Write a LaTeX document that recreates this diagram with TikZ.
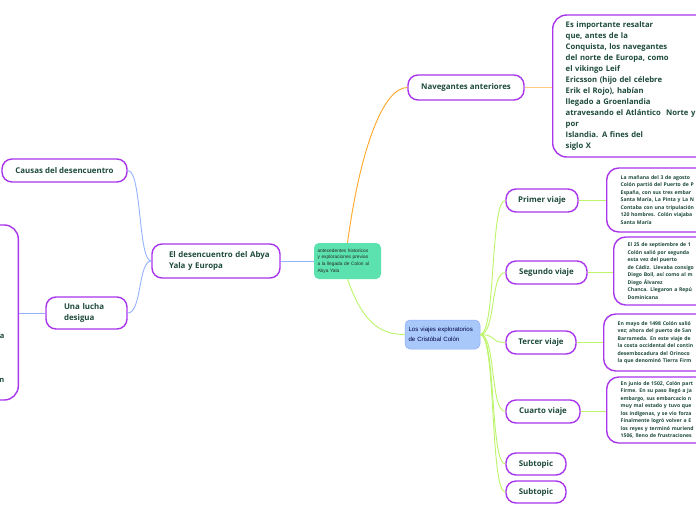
\documentclass[tikz,border=0pt]{standalone}
\usepackage{fontspec}
\setmainfont{Open Sans}
\newfontfamily\arialf{Liberation Sans}
\definecolor{topicborder}{HTML}{A935EC}
\definecolor{txt}{HTML}{1D4A3C}
\definecolor{centerfill}{HTML}{5CE2AE}
\definecolor{bluefill}{HTML}{A8C8FA}
\definecolor{orangeln}{HTML}{FFA726}
\definecolor{lightorange}{HTML}{FFCC80}
\definecolor{blueln}{HTML}{94B4FF}
\definecolor{greenln}{HTML}{BDF56A}
\tikzset{
 topic/.style={draw=topicborder, line width=1.4pt, rounded corners=10pt, fill=white, text=txt,
   font=\bfseries\fontsize{7.9}{10.5}\selectfont, inner sep=0pt, align=center},
 bigbox/.style={draw=topicborder, line width=1.4pt, rounded corners=14pt, fill=white, text=txt,
   font=\bfseries\fontsize{7.7}{11}\selectfont, inner xsep=13pt, inner ysep=0pt, align=left, anchor=west},
 detail/.style={draw=topicborder, line width=1.4pt, rounded corners=12pt, fill=white, text=txt,
   font=\bfseries\fontsize{5.1}{7.5}\selectfont, inner xsep=14pt, inner ysep=0pt, align=left, anchor=west, text width=200pt},
 conn/.style={line width=0.9pt},
}
\begin{document}
\begin{tikzpicture}[x=1pt,y=-1pt]
\useasboundingbox (0,0) rectangle (696,520);
\clip (0,0) rectangle (696,520);
\fill[white] (0,0) rectangle (696,520);

% central
\node[fill=centerfill, rounded corners=5pt, minimum width=67pt, minimum height=36pt, inner xsep=3.5pt, inner ysep=0pt,
  text width=60pt, align=left, font=\arialf\fontsize{4.8}{6.6}\selectfont, text=black!85] (c) at (347.5,261)
  {antecedentes historicos\\ y exploraciones previas\\a la llegada de Colon al\\Abya Yala};

% upper branch
\node[topic, minimum width=116pt, minimum height=25pt] (nav) at (466,87.5) {Navegantes anteriores};
\node[bigbox, minimum height=142pt, text width=190pt] (big) at (552,86)
  {Es importante resaltar\\que, antes de la\\Conquista, los navegantes\\del norte de Europa, como\\el vikingo Leif\\Ericsson (hijo del célebre\\Erik el Rojo), habían\\llegado a Groenlandia\\atravesando el Atlántico~ Norte y\\por\\Islandia. A fines del\\siglo X};

% left branch
\node[topic, minimum width=128pt, minimum height=34pt, inner xsep=0pt, text width=128pt, align=left] (des) at (216,261)
  {\hspace*{17pt}El desencuentro del Abya\\\hspace*{17pt}Yala y Europa};
\node[topic, minimum width=125pt, minimum height=23pt] (cau) at (64.5,170.5) {Causas del desencuentro};
\node[topic, minimum width=81pt, minimum height=32pt, inner xsep=18pt, text width=45pt, align=left] (luc) at (86.5,313)
  {Una lucha\\desigua};
\node[draw=topicborder, line width=1.4pt, rounded corners=14pt, fill=white, minimum width=60pt, minimum height=175pt, anchor=east] (lb) at (19,312.5) {};
\node[text=txt, font=\bfseries\fontsize{7.5}{11}\selectfont, anchor=base east, inner sep=0pt] (la) at (4.5,338.5) {a};
\node[text=txt, font=\bfseries\fontsize{7.5}{11}\selectfont, anchor=base east, inner sep=0pt] (ln) at (4.5,382.5) {n};

% lower branch
\node[fill=bluefill, draw=bluefill!85!blue, line width=0.5pt, rounded corners=5pt, minimum width=73pt, minimum height=29pt,
  inner xsep=3.5pt, inner ysep=0pt, text width=68pt, align=left, font=\arialf\fontsize{6.1}{10}\selectfont, text=black!75!blue] (via) at (442.5,334.5)
  {Los viajes exploratorios\\de Cristóbal Colón};

\node[topic, minimum width=72pt, minimum height=23pt] (v1) at (542,200.5) {Primer viaje};
\node[topic, minimum width=81pt, minimum height=23pt] (v2) at (546.5,272.5) {Segundo viaje};
\node[topic, minimum width=70pt, minimum height=23pt] (v3) at (541,342.5) {Tercer viaje};
\node[topic, minimum width=74pt, minimum height=23pt] (v4) at (543,411.5) {Cuarto viaje};
\node[topic, minimum width=60pt, minimum height=22pt] (s1) at (536,464) {Subtopic};
\node[topic, minimum width=60pt, minimum height=22pt] (s2) at (536,492) {Subtopic};

\node[detail, minimum height=64pt] (d1) at (606,200)
  {La mañana del 3 de agosto\\Colón partió del Puerto de P\\España, con sus tres embar\\Santa María, La Pinta y La N\\Contaba con una tripulación\\120 hombres. Colón viajaba\\Santa María};
\node[detail, minimum height=68pt] (d2) at (613,271)
  {El 25 de septiembre de 1\\Colón salió por segunda\\esta vez del puerto\\de Cádiz. Llevaba consigo\\Diego Boil, así como al m\\Diego Álvarez\\Chanca. Llegaron a Repú\\Dominicana};
\node[detail, minimum height=57pt] (d3) at (603,342.5)
  {En mayo de 1498 Colón salió\\vez; ahora del puerto de San\\Barrameda. En este viaje de\\la costa occidental del contin\\desembocadura del Orinoco\\la que denominó Tierra Firm};
\node[detail, minimum height=66pt] (d4) at (606,410)
  {En junio de 1502, Colón part\\Firme. En su paso llegó a Ja\\embargo, sus embarcacio n\\muy mal estado y tuvo que\\los indígenas, y se vio forza\\Finalmente logró volver a E\\los reyes y terminó muriend\\1506, lleno de frustraciones};

% connectors
\draw[conn, orangeln] (c.north) .. controls (360,150) and (383,87.5) .. (nav.west);
\draw[conn, lightorange] (nav.east) -- (big.west |- nav.east);
\draw[conn, blueln] (c.west) -- (des.east);
\draw[conn, blueln] (des.west) .. controls (138,261) and (142,170.5) .. (cau.east);
\draw[conn, blueln] (des.west) .. controls (138,261) and (142,313) .. (luc.east);
\draw[conn, blueln] (luc.west) -- (lb.east |- luc.west);
\draw[conn, greenln] (c.south) .. controls (362,320) and (378,334.5) .. (via.west);
\foreach \n in {v1,v2,v3,v4,s1,s2}{
  \draw[conn, greenln] (via.east) .. controls (496,334.5) and (490,0 |- \n.west) .. (\n.west);
}
\draw[conn, greenln] (v1.east) -- (d1.west |- v1.east);
\draw[conn, greenln] (v2.east) -- (d2.west |- v2.east);
\draw[conn, greenln] (v3.east) -- (d3.west |- v3.east);
\draw[conn, greenln] (v4.east) -- (d4.west |- v4.east);
\end{tikzpicture}
\end{document}
